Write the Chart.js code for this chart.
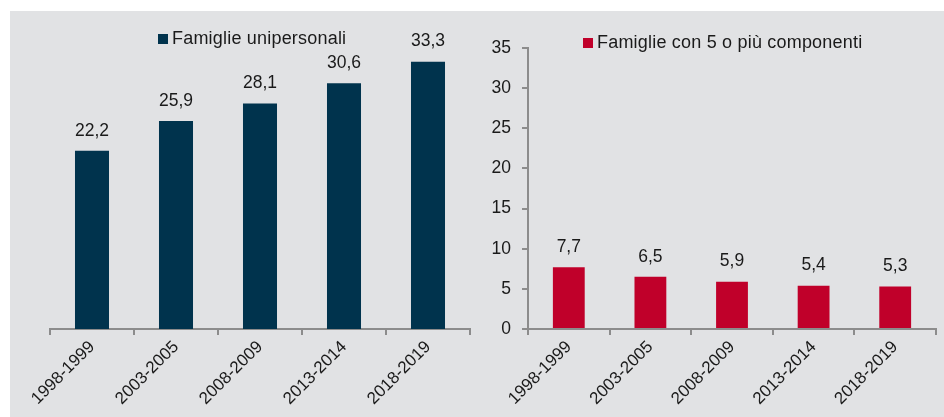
<!DOCTYPE html>
<html lang="it">
<head>
<meta charset="utf-8">
<script src="https://cdn.jsdelivr.net/npm/chart.js@4/dist/chart.umd.min.js"></script>
<style>
    body { margin: 0; background: #ffffff; font-family: "Liberation Sans", Arial, sans-serif; }
    .sfondo { position: absolute; left: 10px; top: 11px; width: 934px; height: 406px; background: #e1e2e4; }
    canvas { position: absolute; top: 11px; }
    #graficoSinistra { left: 10px; }
    #graficoDestra { left: 472px; }
    .legenda { position: absolute; font-size: 18px; color: #1a1a1a; white-space: nowrap; line-height: 20px; letter-spacing: 0.2px; }
    .legenda span.quadrato { display: inline-block; width: 10px; height: 10px; margin-right: 4px; vertical-align: 0px; }
    #legendaSinistra { left: 158px; top: 28px; }
    #legendaDestra { left: 583px; top: 32px; }
</style>
</head>
<body>
<div class="sfondo"></div>
<canvas id="graficoSinistra" width="462" height="406"></canvas>
<canvas id="graficoDestra" width="472" height="406"></canvas>
<div class="legenda" id="legendaSinistra"></div>
<div class="legenda" id="legendaDestra"></div>
<script>
// Dati
const periodi = ['1998-1999', '2003-2005', '2008-2009', '2013-2014', '2018-2019'];
const unipersonali = [22.2, 25.9, 28.1, 30.6, 33.3];
const cinqueOPiu = [7.7, 6.5, 5.9, 5.4, 5.3];
const etichettaSinistra = 'Famiglie unipersonali';
const etichettaDestra = 'Famiglie con 5 o più componenti';
const asseMin = 0;
const asseMax = 35;
const assePasso = 5;

const FONT = '"Liberation Sans", Arial, sans-serif';
const COLORE_TESTO = '#1a1a1a';
const COLORE_ASSE = '#8c8c8c';

// Etichette dei valori sopra le barre
const etichetteValori = {
    id: 'etichetteValori',
    afterDatasetsDraw(chart) {
        const ctx = chart.ctx;
        const meta = chart.getDatasetMeta(0);
        const valori = chart.data.datasets[0].data;
        ctx.save();
        ctx.font = '17.5px ' + FONT;
        ctx.fillStyle = COLORE_TESTO;
        ctx.textAlign = 'center';
        ctx.textBaseline = 'middle';
        meta.data.forEach((barra, i) => {
            ctx.fillText(valori[i].toFixed(1).replace('.', ','), barra.x, barra.y - 20);
        });
        ctx.restore();
    }
};

const asseX = () => ({
    offset: true,
    grid: { display: true, drawOnChartArea: false, offset: true, tickLength: 6, color: COLORE_ASSE, lineWidth: 2 },
    border: { display: true, color: COLORE_ASSE, width: 2 },
    ticks: { color: COLORE_TESTO, font: { family: FONT, size: 17 }, minRotation: 45, maxRotation: 45, padding: 2 },
    afterFit: (scala) => {
        scala.height = 88;
        // niente spazio extra per le etichette ruotate
        scala.paddingLeft = 0;
        scala.paddingRight = 0;
    }
});

const creaGrafico = (id, etichetta, dati, colore, barPct, mostraAsseY, padding) => {
    return new Chart(document.getElementById(id), {
        type: 'bar',
        data: {
            labels: periodi,
            datasets: [{
                label: etichetta,
                data: dati,
                backgroundColor: colore,
                barPercentage: barPct,
                categoryPercentage: 1
            }]
        },
        options: {
            responsive: false,
            animation: false,
            layout: { padding: padding },
            plugins: { legend: { display: false }, tooltip: { enabled: false } },
            scales: {
                x: asseX(),
                y: {
                    display: mostraAsseY,
                    min: asseMin,
                    max: asseMax,
                    grid: { display: true, drawOnChartArea: false, tickLength: 6, color: COLORE_ASSE, lineWidth: 2 },
                    border: { display: true, color: COLORE_ASSE, width: 2 },
                    ticks: { stepSize: assePasso, color: COLORE_TESTO, font: { family: FONT, size: 17.5 }, padding: 11 },
                    afterFit: (scala) => { scala.width = mostraAsseY ? 56 : 0; }
                }
            }
        },
        plugins: [etichetteValori]
    });
};

const creaLegenda = (id, etichetta, colore) => {
    const el = document.getElementById(id);
    const q = document.createElement('span');
    q.className = 'quadrato';
    q.style.background = colore;
    el.appendChild(q);
    el.appendChild(document.createTextNode(etichetta));
};

creaGrafico('graficoSinistra', etichettaSinistra, unipersonali, '#00334d', 0.405, false, { top: 37, left: 40, right: 2, bottom: 0 });
creaGrafico('graficoDestra', etichettaDestra, cinqueOPiu, '#c0002a', 0.39, true, { top: 37, left: 0, right: 8, bottom: 0 });
creaLegenda('legendaSinistra', etichettaSinistra, '#00334d');
creaLegenda('legendaDestra', etichettaDestra, '#c0002a');
</script>
</body>
</html>
